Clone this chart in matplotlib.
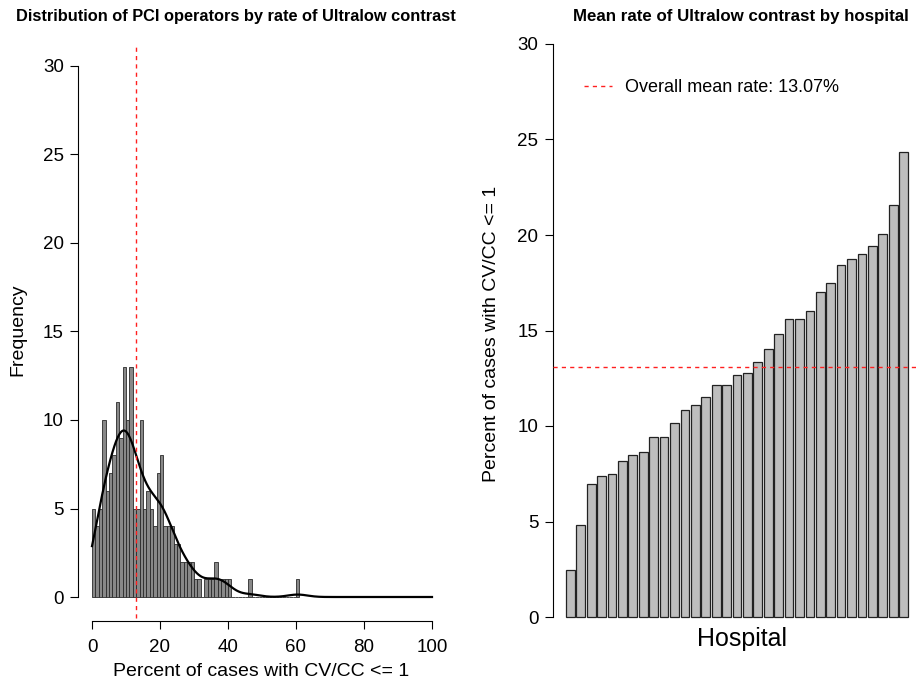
import numpy as np
import matplotlib
matplotlib.use("Agg")
import matplotlib.pyplot as plt
from matplotlib.lines import Line2D

plt.rcParams['font.family'] = ['Liberation Sans', 'DejaVu Sans']

# ---------------- data ----------------
# Histogram of operator rates: counts per 1-percent bin, starting at 0%
hist_bin_start = 0
hist_bin_width = 1
hist_counts = [5, 4, 5, 10, 6, 7, 8, 11, 9, 13,
               10, 13, 5, 5, 10, 5, 6, 5, 4, 7,
               8, 4, 4, 4, 3, 3, 2, 2, 2, 2,
               1, 1, 0, 1, 1, 1, 2, 1, 1, 1,
               1, 0, 0, 0, 0, 0, 1, 0, 0, 0,
               0, 0, 0, 0, 0, 0, 0, 0, 0, 0,
               1]
overall_mean = 13.07

# Hospital mean rates (sorted)
hospital_rates = [2.46, 4.82, 6.95, 7.40, 7.47, 8.17, 8.50, 8.66, 9.42, 9.42,
                  10.14, 10.86, 11.12, 11.52, 12.15, 12.15, 12.65, 12.76, 13.37, 14.01,
                  14.83, 15.58, 15.62, 16.00, 17.03, 17.50, 18.43, 18.73, 19.00, 19.42,
                  20.03, 21.57, 24.33]

hist_xticks = [0, 20, 40, 60, 80, 100]
yticks = [0, 5, 10, 15, 20, 25, 30]

# ---------------- figure ----------------
W, H = 916, 681
fig = plt.figure(figsize=(W / 100, H / 100), dpi=100)

def box(l, r, t, b):
    return [l / W, 1 - b / H, (r - l) / W, (b - t) / H]

# ---- left: histogram ----
L1, R1, T1, B1 = 78.4, 445.6, 44.8, 621.0
ax1 = fig.add_axes(box(L1, R1, T1, B1))
ax1.set_xlim(-(92 - L1) / 3.4, 100 + (R1 - 432) / 3.4)
ax1.set_ylim(-(B1 - 597) / 17.7, 30 + (66 - T1) / 17.7)

edges = hist_bin_start + hist_bin_width * np.arange(len(hist_counts))
ax1.bar(edges, hist_counts, width=hist_bin_width, align='edge',
        facecolor='#888888', edgecolor='#2a2a2a', linewidth=0.6, zorder=2)

# smoothed density (kernel estimate from the binned counts), scaled to counts
centers = edges + hist_bin_width / 2
counts = np.asarray(hist_counts, dtype=float)
xs = np.linspace(0, 100, 801)
bw = 2.9
dens = (counts[None, :] * np.exp(-0.5 * ((xs[:, None] - centers[None, :]) / bw) ** 2)
        / (bw * np.sqrt(2 * np.pi))).sum(axis=1) * hist_bin_width
ax1.plot(xs, dens, color='black', lw=1.6, zorder=3)

ax1.axvline(overall_mean, ymin=(B1 - 618) / (B1 - T1), ymax=1.0, color='#ff2020', lw=1.0,
            dashes=(3, 3), zorder=4)

for s in ['top', 'right']:
    ax1.spines[s].set_visible(False)
ax1.spines['left'].set_bounds(0, 30)
ax1.spines['bottom'].set_bounds(0, 100)
ax1.set_xticks(hist_xticks)
ax1.set_yticks(yticks)
ax1.tick_params(direction='out', length=6, width=0.8, labelsize=13.5)
ax1.tick_params(axis='x', pad=7)
ax1.tick_params(axis='y', pad=4.5)
for s in ['left', 'bottom']:
    ax1.spines[s].set_linewidth(0.8)

# ---- right: bar chart ----
ax2 = fig.add_axes(box(553, 916, 21, 640))
ax2.set_xlim(-13 / 8.68, (916 - 566) / 8.68)
ax2.set_ylim(-(640 - 617) / 19.1, 30 + (44 - 21) / 19.1)
pos = np.arange(len(hospital_rates)) * 1.2 + 0.5
ax2.bar(pos, hospital_rates, width=1.0, facecolor='#bebebe',
        edgecolor='#222222', linewidth=0.9, zorder=2)
ax2.axhline(overall_mean, color='#ff2020', lw=1.0, dashes=(3, 3), zorder=3)

for s in ['top', 'right', 'bottom']:
    ax2.spines[s].set_visible(False)
ax2.spines['left'].set_bounds(0, 30)
ax2.spines['left'].set_linewidth(0.8)
ax2.set_xticks([])
ax2.set_yticks(yticks)
ax2.tick_params(direction='out', length=6, width=0.8, labelsize=13.5, pad=4.5)

leg_handle = Line2D([], [], color='#ff2020', lw=1.0, dashes=(3, 3))
ax2.legend([leg_handle], ['Overall mean rate: %.2f%%' % overall_mean],
           frameon=False, fontsize=13, handlelength=1.6, handletextpad=0.7,
           loc='center left',
           bbox_to_anchor=((589 - 553) / (916 - 553) - 0.035, (640 - 88) / (640 - 21)),
           borderaxespad=0)

# ---- texts ----
fig.text(236 / W, 1 - 17 / H, 'Distribution of PCI operators by rate of Ultralow contrast',
         ha='center', va='center', fontsize=11.8, fontweight='bold')
fig.text(741 / W, 1 - 17 / H, 'Mean rate of Ultralow contrast by hospital',
         ha='center', va='center', fontsize=12.2, fontweight='bold')
fig.text(261.5 / W, 1 - 672 / H, 'Percent of cases with CV/CC <= 1',
         ha='center', va='center', fontsize=14)
fig.text(18 / W, 1 - 330 / H, 'Frequency', rotation=90,
         ha='center', va='center', fontsize=14)
fig.text(492 / W, 1 - 334 / H, 'Percent of cases with CV/CC <= 1', rotation=90,
         ha='center', va='center', fontsize=14)
fig.text(742 / W, 1 - 639 / H, 'Hospital', ha='center', va='center', fontsize=18)

fig.savefig('out.png', dpi=100)
